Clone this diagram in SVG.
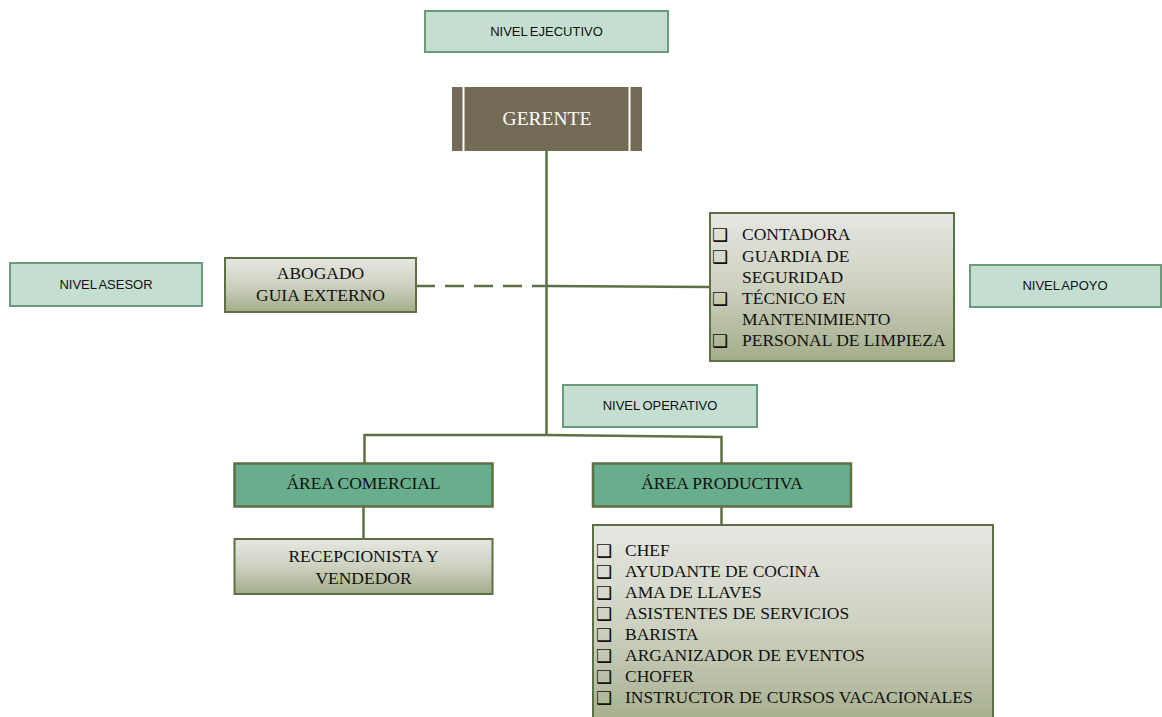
<svg xmlns="http://www.w3.org/2000/svg" width="1162" height="717" viewBox="0 0 1162 717">
  <defs>
    <linearGradient id="paleOlive" x1="0" y1="0" x2="0" y2="1">
      <stop offset="0" stop-color="#e6e7e2"/>
      <stop offset="0.5" stop-color="#cdd1c0"/>
      <stop offset="1" stop-color="#a3ac89"/>
    </linearGradient>
    <style>
      .level { fill: #c4dfd1; stroke: #6c9b7b; stroke-width: 2; }
      .level-text { font-family: "Liberation Sans", Arial, sans-serif; font-size: 13px; fill: #111; text-anchor: middle; word-spacing: -1px; }
      .area { fill: #68ad8c; stroke: #5d6f43; stroke-width: 2.5; }
      .staff { fill: url(#paleOlive); stroke: #5d7043; stroke-width: 2; }
      .serif { font-family: "Liberation Serif", "Times New Roman", serif; font-size: 17.5px; fill: #111; }
      .mid { text-anchor: middle; }
      .box-mark { font-family: "DejaVu Sans", sans-serif; font-size: 18px; font-weight: bold; fill: #111; }
      .link { fill: none; stroke: #5e7046; stroke-width: 2.5; }
    </style>
  </defs>

  <rect width="1162" height="717" fill="#ffffff"/>

  <!-- connectors -->
  <g id="connectors">
    <path class="link" d="M546.5 151 V435"/>
    <path class="link" d="M416 286 H546" stroke-dasharray="19 10"/>
    <path class="link" d="M546 286 L710 287"/>
    <path class="link" d="M364.5 463 V435 H546 L721.5 437 V463"/>
    <path class="link" d="M363.5 506 V539"/>
    <path class="link" d="M721.5 506 V525"/>
  </g>

  <!-- level labels -->
  <g id="nivel-ejecutivo">
    <rect class="level" x="425" y="11" width="243" height="41"/>
    <text class="level-text" x="546.5" y="36">NIVEL EJECUTIVO</text>
  </g>
  <g id="nivel-asesor">
    <rect class="level" x="10" y="263" width="192" height="43"/>
    <text class="level-text" x="106" y="289">NIVEL ASESOR</text>
  </g>
  <g id="nivel-apoyo">
    <rect class="level" x="970" y="265" width="191" height="42"/>
    <text class="level-text" x="1065" y="290">NIVEL APOYO</text>
  </g>
  <g id="nivel-operativo">
    <rect class="level" x="563" y="385" width="194" height="42"/>
    <text class="level-text" x="660" y="410">NIVEL OPERATIVO</text>
  </g>

  <!-- executive -->
  <g id="gerente">
    <rect x="452" y="87" width="190" height="64" fill="#736b56"/>
    <path d="M463.5 87 V151 M629.5 87 V151" stroke="#ffffff" stroke-width="2"/>
    <text x="547" y="125" font-family="'Liberation Serif', 'Times New Roman', serif" font-size="19.5" fill="#ffffff" text-anchor="middle">GERENTE</text>
  </g>

  <!-- advisory -->
  <g id="abogado">
    <rect class="staff" x="225" y="258" width="191" height="54"/>
    <text class="serif mid" x="320.5" y="279">ABOGADO</text>
    <text class="serif mid" x="320.5" y="301">GUIA EXTERNO</text>
  </g>

  <!-- support staff -->
  <g id="apoyo">
    <rect class="staff" x="710" y="213" width="244" height="148"/>
    <text class="box-mark" x="712" y="241">❑</text>
    <text class="serif" x="742" y="240">CONTADORA</text>
    <text class="box-mark" x="712" y="263">❑</text>
    <text class="serif" x="742" y="262">GUARDIA DE</text>
    <text class="serif" x="742" y="283">SEGURIDAD</text>
    <text class="box-mark" x="712" y="305">❑</text>
    <text class="serif" x="742" y="304">TÉCNICO EN</text>
    <text class="serif" x="742" y="325">MANTENIMIENTO</text>
    <text class="box-mark" x="712" y="347">❑</text>
    <text class="serif" x="742" y="346">PERSONAL DE LIMPIEZA</text>
  </g>

  <!-- operating areas -->
  <g id="area-comercial">
    <rect class="area" x="234.5" y="463.5" width="258" height="43"/>
    <text class="serif mid" x="363.5" y="489">ÁREA COMERCIAL</text>
  </g>
  <g id="area-productiva">
    <rect class="area" x="593" y="463.5" width="258" height="43"/>
    <text class="serif mid" x="722" y="489">ÁREA PRODUCTIVA</text>
  </g>

  <g id="recepcionista">
    <rect class="staff" x="234.5" y="539" width="258" height="55"/>
    <text class="serif mid" x="363.5" y="562">RECEPCIONISTA Y</text>
    <text class="serif mid" x="363.5" y="584">VENDEDOR</text>
  </g>

  <g id="productiva-personal">
    <rect class="staff" x="593" y="525" width="400" height="205"/>
    <text class="box-mark" x="596" y="557">❑</text>
    <text class="serif" x="625" y="556">CHEF</text>
    <text class="box-mark" x="596" y="578">❑</text>
    <text class="serif" x="625" y="577">AYUDANTE DE COCINA</text>
    <text class="box-mark" x="596" y="599">❑</text>
    <text class="serif" x="625" y="598">AMA DE LLAVES</text>
    <text class="box-mark" x="596" y="620">❑</text>
    <text class="serif" x="625" y="619">ASISTENTES DE SERVICIOS</text>
    <text class="box-mark" x="596" y="641">❑</text>
    <text class="serif" x="625" y="640">BARISTA</text>
    <text class="box-mark" x="596" y="662">❑</text>
    <text class="serif" x="625" y="661">ARGANIZADOR DE EVENTOS</text>
    <text class="box-mark" x="596" y="683">❑</text>
    <text class="serif" x="625" y="682">CHOFER</text>
    <text class="box-mark" x="596" y="704">❑</text>
    <text class="serif" x="625" y="703">INSTRUCTOR DE CURSOS VACACIONALES</text>
  </g>
</svg>
